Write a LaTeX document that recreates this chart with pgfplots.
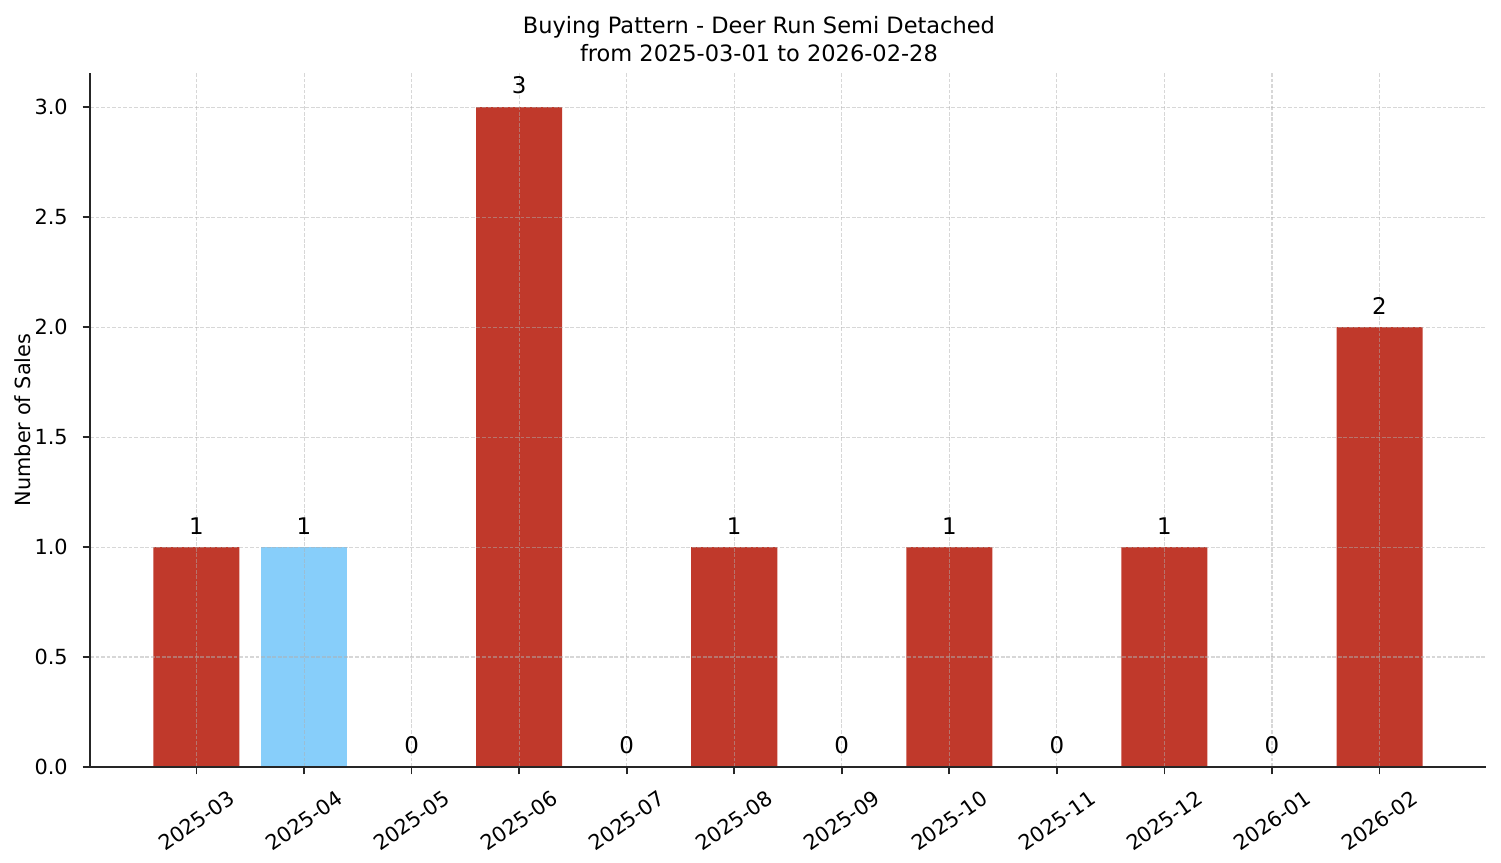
\documentclass[border=0pt]{standalone}
\usepackage{pgfplots}
\pgfplotsset{compat=1.18}
\usepackage{fontspec}
\setmainfont{DejaVu Sans}
\definecolor{barred}{HTML}{C0392B}
\definecolor{barblue}{HTML}{87CEFA}
\definecolor{gridc}{HTML}{B0B0B0}

\begin{document}
\begin{tikzpicture}
% page size: 1501x863 px at 150 dpi
\useasboundingbox (-43.2pt,-46.08pt) rectangle (677.28pt,368.16pt);
\begin{axis}[
    scale only axis,
    width=670.08pt, height=333.12pt,
    at={(0,0)}, anchor=south west,
    ybar, bar width=0.8, bar shift=0pt,
    xmin=-0.99, xmax=11.99,
    ymin=0, ymax=3.155,
    axis x line*=bottom, axis y line*=left,
    axis line style={line width=0.8pt, black!85},
    tick align=outside, major tick length=3.5pt,
    tick style={line width=0.8pt, black!85},
    xtick={0,...,11},
    xticklabels={
        \rotatebox{35}{2025-03},\rotatebox{35}{2025-04},\rotatebox{35}{2025-05},
        \rotatebox{35}{2025-06},\rotatebox{35}{2025-07},\rotatebox{35}{2025-08},
        \rotatebox{35}{2025-09},\rotatebox{35}{2025-10},\rotatebox{35}{2025-11},
        \rotatebox{35}{2025-12},\rotatebox{35}{2026-01},\rotatebox{35}{2026-02}},
    xticklabel style={anchor=north, inner sep=0pt, yshift=-7pt, font=\fontsize{10}{12}\selectfont},
    ytick={0,0.5,...,3.0},
    yticklabel style={anchor=east, inner sep=0pt, xshift=-7pt, font=\fontsize{10}{12}\selectfont,
        /pgf/number format/.cd, fixed, fixed zerofill, precision=1},
    /pgf/number format/assume math mode=true,
    grid=major,
    grid style={dashed, dash pattern=on 1.85pt off 0.8pt, line width=0.5pt, gridc, opacity=0.5},
    axis on top,
    nodes near coords,
    every node near coord/.append style={anchor=south, inner sep=0pt, yshift=6pt,
        font=\fontsize{11}{13}\selectfont, black},
]
\addplot[fill=barred, draw=none] coordinates {
    (0,1) (2,0) (3,3) (4,0) (5,1) (6,0) (7,1) (8,0) (9,1) (10,0) (11,2)
};
\addplot[fill=barblue, draw=none] coordinates {
    (1,1)
};
\end{axis}
\node[anchor=base, font=\fontsize{10.8}{13}\selectfont] at (321.1pt,352.3pt) {Buying Pattern - Deer Run Semi Detached};
\node[anchor=base, font=\fontsize{10.8}{13}\selectfont] at (321.1pt,338.4pt) {from 2025-03-01 to 2026-02-28};
\node[rotate=90, anchor=center, font=\fontsize{10}{12}\selectfont] at (-32.2pt,166.56pt) {Number of Sales};
\end{tikzpicture}
\end{document}
